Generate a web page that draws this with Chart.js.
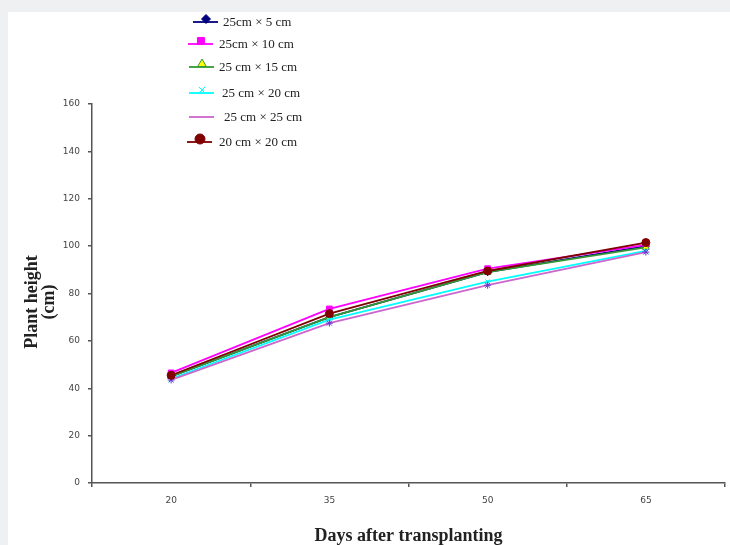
<!DOCTYPE html>
<html>
<head>
<meta charset="utf-8">
<script src="https://cdn.jsdelivr.net/npm/chart.js@4.4.0/dist/chart.umd.min.js"></script>
<style>
  body { margin: 0; background: #eef0f2; width: 730px; height: 545px; overflow: hidden; }
  #wrap { position: absolute; left: 8px; top: 12px; width: 722px; height: 533px; background: #fff; }
</style>
</head>
<body>
<div id="wrap"><canvas id="plant"></canvas></div>
<script>
const days = ['20', '35', '50', '65'];
const spacings = ['25cm \u00d7 5 cm', '25cm \u00d7 10 cm', '25 cm \u00d7 15 cm', '25 cm \u00d7 20 cm', '25 cm \u00d7 25 cm', '20 cm \u00d7 20 cm'];
const s25x5 = [45, 70, 89, 100];
const s25x10 = [46.5, 73.5, 90.5, 100.5];
const s25x15 = [45, 70, 89, 99.5];
const s25x20 = [44, 69, 85, 98];
const s25x25 = [43.5, 67.5, 83.5, 97.5];
const s20x20 = [45.5, 71.5, 89.5, 101.5];
const yTicks = [0, 20, 40, 60, 80, 100, 120, 140, 160];

const serif = '"Liberation Serif", "DejaVu Serif", serif';
const tickFont = { size: 9, family: '"DejaVu Sans", sans-serif' };

// legend rows (line start, text start, row centre)
const legendRows = [
    { y: 10, lx: 185, tx: 215 },
    { y: 32, lx: 180, tx: 211 },
    { y: 55, lx: 181, tx: 211 },
    { y: 81, lx: 181, tx: 214 },
    { y: 105, lx: 181, tx: 216 },
    { y: 130, lx: 179, tx: 211 }
];

function mk(label, data, line, style, fill, edge, r, order) {
    return {
        label: label,
        data: data,
        order: order,
        borderColor: line,
        borderWidth: 1.8,
        pointStyle: style,
        pointBackgroundColor: fill,
        pointBorderColor: edge,
        pointBorderWidth: 1,
        pointRadius: r,
        tension: 0,
        fill: false
    };
}

// later series sit on top, as in the original
const datasets = [
    mk(spacings[0], s25x5, '#000080', 'rectRot', '#000080', '#000080', 3.5, 5),
    mk(spacings[1], s25x10, '#ff00ff', 'rect', '#ff00ff', '#ff00ff', 4, 4),
    mk(spacings[2], s25x15, '#339933', 'triangle', '#ffff00', '#339933', 4, 3),
    mk(spacings[3], s25x20, '#00ffff', 'crossRot', '#00ffff', '#00ffff', 3.5, 2),
    mk(spacings[4], s25x25, '#cc66cc', 'star', '#6633cc', '#6633cc', 3.5, 1),
    mk(spacings[5], s20x20, '#800000', 'circle', '#800000', '#800000', 4, 0)
];

const extras = {
    id: 'extras',
    afterDraw(chart) {
        const ctx = chart.ctx;
        ctx.save();
        // y axis title
        ctx.fillStyle = '#222';
        ctx.font = 'bold 18px ' + serif;
        ctx.textAlign = 'center';
        ctx.textBaseline = 'middle';
        ctx.translate(24, 290);
        ctx.rotate(-Math.PI / 2);
        ctx.fillText('Plant height', 0, 0);
        ctx.fillText('(cm)', 0, 17);
        ctx.restore();

        // legend
        ctx.save();
        chart.data.datasets.forEach((ds, i) => {
            const row = legendRows[i];
            ctx.strokeStyle = ds.borderColor;
            ctx.lineWidth = 1.8;
            ctx.beginPath();
            ctx.moveTo(row.lx, row.y);
            ctx.lineTo(row.lx + 25, row.y);
            ctx.stroke();
            if (i !== 4) {
                ctx.fillStyle = ds.pointBackgroundColor;
                ctx.strokeStyle = ds.pointBorderColor;
                ctx.lineWidth = 1;
                Chart.helpers.drawPoint(ctx, {
                    pointStyle: ds.pointStyle,
                    radius: ds.pointRadius + 1,
                    borderWidth: 1
                }, row.lx + 13, row.y - 3);
            }
            ctx.fillStyle = '#222';
            ctx.font = '13px ' + serif;
            ctx.textAlign = 'left';
            ctx.textBaseline = 'middle';
            ctx.fillText(ds.label, row.tx, row.y + 1);
        });
        ctx.restore();
    }
};

new Chart(document.getElementById('plant'), {
    type: 'line',
    data: { labels: days, datasets: datasets },
    options: {
        responsive: true,
        maintainAspectRatio: false,
        animation: false,
        layout: { padding: { top: 92, right: 0, left: 0, bottom: 0 } },
        plugins: {
            legend: { display: false },
            tooltip: { enabled: false }
        },
        scales: {
            x: {
                offset: true,
                grid: { offset: true, drawOnChartArea: false, tickLength: 4, color: '#555', lineWidth: 1.5 },
                border: { color: '#555', width: 1.5 },
                ticks: { color: '#444', font: tickFont, padding: 8 },
                title: {
                    display: true,
                    text: 'Days after transplanting',
                    color: '#222',
                    font: { size: 18, weight: 'bold', family: serif, lineHeight: 1 },
                    padding: { top: 24, bottom: 0 }
                },
                afterFit(scale) { scale.height = 62; }
            },
            y: {
                min: 0,
                max: 160,
                afterBuildTicks(scale) { scale.ticks = yTicks.map(v => ({ value: v })); },
                grid: { drawOnChartArea: false, tickLength: 4, color: '#555', lineWidth: 1.5 },
                border: { color: '#555', width: 1.5 },
                ticks: { color: '#444', font: tickFont, padding: 8 },
                afterFit(scale) { scale.width = 84; }
            }
        }
    },
    plugins: [extras]
});
</script>
</body>
</html>
